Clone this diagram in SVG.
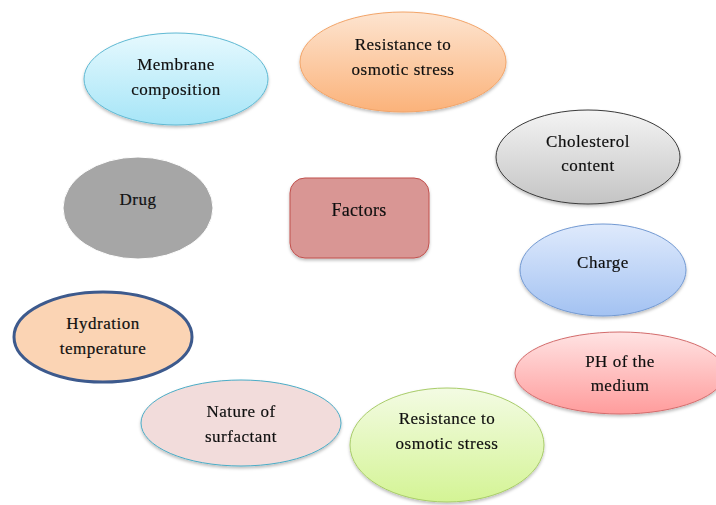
<svg xmlns="http://www.w3.org/2000/svg" width="716" height="505" viewBox="0 0 716 505">
<defs>
<linearGradient id="gCyan" x1="0" y1="0" x2="0" y2="1"><stop offset="0" stop-color="#e6f9fe"/><stop offset="1" stop-color="#a6e5f7"/></linearGradient>
<linearGradient id="gPeach" x1="0" y1="0" x2="0" y2="1"><stop offset="0" stop-color="#fde4d0"/><stop offset="1" stop-color="#fbb27a"/></linearGradient>
<linearGradient id="gGray" x1="0" y1="0" x2="0" y2="1"><stop offset="0" stop-color="#f4f4f4"/><stop offset="1" stop-color="#c4c4c4"/></linearGradient>
<linearGradient id="gBlue" x1="0" y1="0" x2="0" y2="1"><stop offset="0" stop-color="#dfeafc"/><stop offset="1" stop-color="#a3c2f2"/></linearGradient>
<linearGradient id="gPink" x1="0" y1="0" x2="0" y2="1"><stop offset="0" stop-color="#ffe3e3"/><stop offset="1" stop-color="#ff9c9c"/></linearGradient>
<linearGradient id="gGreen" x1="0" y1="0" x2="0" y2="1"><stop offset="0" stop-color="#f3fbe3"/><stop offset="1" stop-color="#d4f495"/></linearGradient>
<filter id="sh" x="-10%" y="-10%" width="125%" height="130%"><feDropShadow dx="0" dy="2" stdDeviation="1.5" flood-color="#000" flood-opacity="0.25"/></filter>
</defs>
<style>
text{font-family:"Liberation Serif","Times New Roman",serif;font-size:17px;letter-spacing:0.5px;fill:#111;stroke:#111;stroke-width:0.2px;text-anchor:middle}
.s{filter:url(#sh)}
</style>
<rect width="716" height="505" fill="#fff"/>
<g id="connectors"/>
<g id="membrane" class="s"><ellipse cx="176" cy="79" rx="92" ry="46" fill="url(#gCyan)" stroke="#5fb9d3" stroke-width="1"/><text x="176" y="70">Membrane</text><text x="176" y="95">composition</text></g>
<g id="resistance-top" class="s"><ellipse cx="403" cy="62" rx="103" ry="50" fill="url(#gPeach)" stroke="#f2a468" stroke-width="1"/><text x="403" y="50">Resistance to</text><text x="403" y="75">osmotic stress</text></g>
<g id="cholesterol" class="s"><ellipse cx="588" cy="157" rx="92" ry="47" fill="url(#gGray)" stroke="#3a3a3a" stroke-width="1"/><text x="588" y="147">Cholesterol</text><text x="588" y="171">content</text></g>
<g id="drug"><ellipse cx="138" cy="208" rx="75" ry="51" fill="#a6a6a6" stroke="#fff" stroke-width="1"/><text x="138" y="205">Drug</text></g>
<g id="factors" class="s"><rect x="290" y="178" width="139" height="80" rx="15" fill="#d99694" stroke="#c0504d" stroke-width="1"/><text x="359" y="216" style="font-size:18px;letter-spacing:0.3px">Factors</text></g>
<g id="charge" class="s"><ellipse cx="603" cy="270" rx="83" ry="46" fill="url(#gBlue)" stroke="#7299d2" stroke-width="1"/><text x="603" y="268">Charge</text></g>
<g id="hydration"><ellipse cx="103" cy="337" rx="89" ry="45" fill="#fbd4b4" stroke="#3d5a8d" stroke-width="3"/><text x="103" y="329">Hydration</text><text x="103" y="354">temperature</text></g>
<g id="ph" class="s"><ellipse cx="620" cy="373" rx="105" ry="41" fill="url(#gPink)" stroke="#d36c6c" stroke-width="1"/><text x="620" y="367">PH of the</text><text x="620" y="391">medium</text></g>
<g id="resistance-bottom" class="s"><ellipse cx="447" cy="445" rx="97" ry="57" fill="url(#gGreen)" stroke="#a8cc69" stroke-width="1"/><text x="447" y="424">Resistance to</text><text x="447" y="449">osmotic stress</text></g>
<g id="surfactant" class="s"><ellipse cx="241" cy="423" rx="100" ry="43" fill="#f2dcdb" stroke="#4bacc6" stroke-width="1"/><text x="241" y="417">Nature of</text><text x="241" y="442">surfactant</text></g>
</svg>
